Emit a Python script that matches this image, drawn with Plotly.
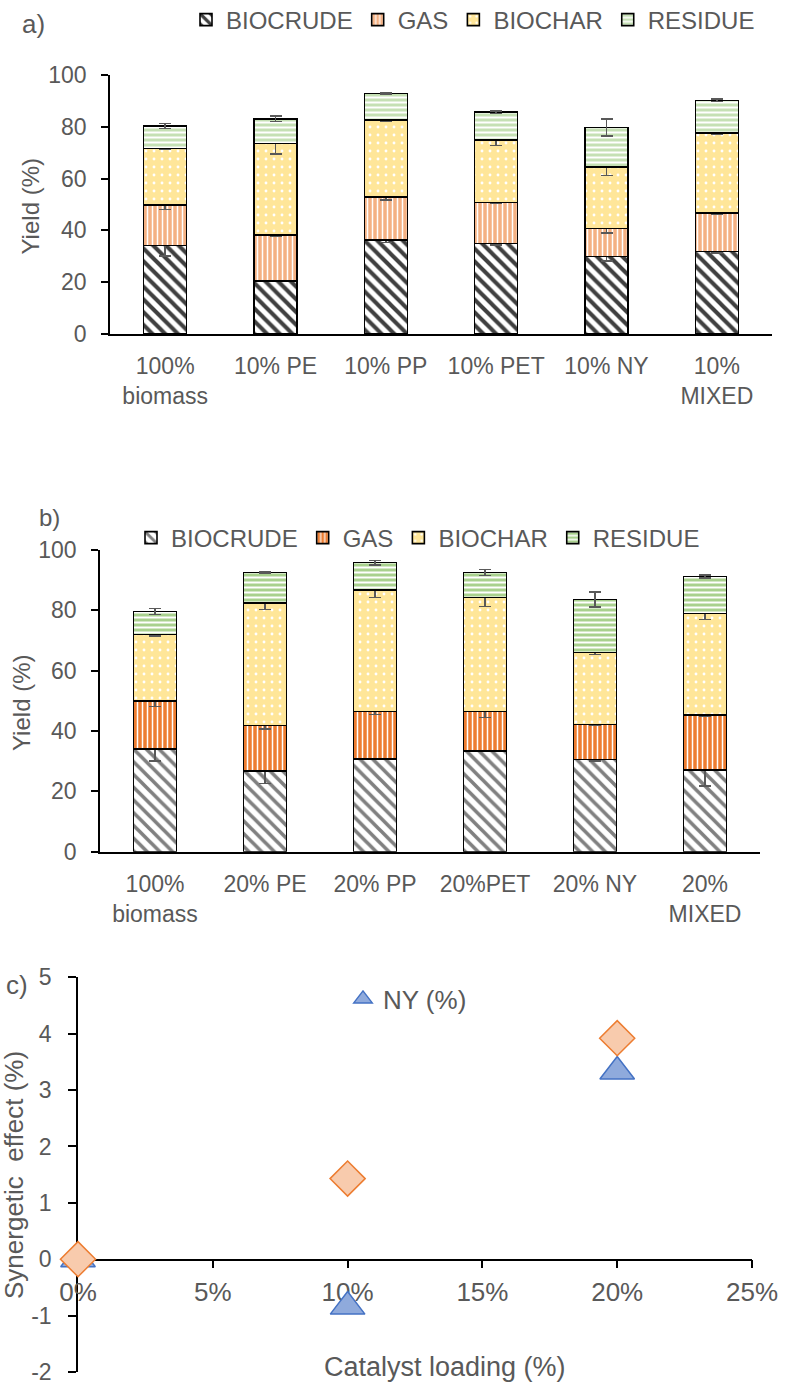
import plotly.graph_objects as go

W, H = 794, 1386

# ---------------- data ----------------
categories_a = ["100%<br>biomass", "10% PE", "10% PP", "10% PET", "10% NY", "10%<br>MIXED"]
categories_b = ["100%<br>biomass", "20% PE", "20% PP", "20%PET", "20% NY", "20%<br>MIXED"]
series_names = ["BIOCRUDE", "GAS", "BIOCHAR", "RESIDUE"]

# panel a (10% plastic) yields, %
biocrude_a = [34.1, 20.5, 36.3, 34.9, 29.9, 31.8]
gas_a = [15.7, 17.7, 16.5, 15.8, 10.8, 15.0]
biochar_a = [21.9, 35.4, 29.8, 24.1, 23.8, 30.7]
residue_a = [8.6, 9.5, 10.2, 10.9, 15.3, 12.7]
biocrude_a_err = [3.9, 0.3, 1.0, 0.5, 1.8, 0.6]
gas_a_err = [1.8, 0.5, 1.0, 0.3, 1.7, 0.6]
biochar_a_err = [0.5, 4.1, 0.5, 2.0, 3.3, 0.5]
residue_a_err = [1.0, 1.0, 0.3, 0.5, 3.3, 0.5]

# panel b (20% plastic) yields, %
biocrude_b = [34.0, 26.7, 30.8, 33.4, 30.6, 27.1]
gas_b = [15.9, 15.1, 15.7, 13.1, 11.5, 18.2]
biochar_b = [22.1, 40.7, 40.2, 37.7, 23.9, 33.7]
residue_b = [7.6, 10.1, 9.1, 8.4, 17.6, 12.2]
biocrude_b_err = [3.9, 4.1, 0.3, 0.2, 0.5, 5.3]
gas_b_err = [1.8, 1.2, 1.0, 2.0, 0.3, 0.3]
biochar_b_err = [0.5, 2.2, 2.4, 2.9, 0.6, 2.1]
residue_b_err = [1.0, 0.2, 0.7, 1.0, 2.4, 0.5]

# panel c synergetic effect
catalyst_loading = [0.0, 0.10, 0.20]
ny_effect = [0.0, -0.84, 3.33]
other_effect = [0.0, 1.43, 3.92]

x_ticks_c = [0, 0.05, 0.10, 0.15, 0.20, 0.25]
y_ticks_c = [-2, -1, 0, 1, 2, 3, 4, 5]
y_ticktext_c = ["-2", "-1", "0", "1", "2", "3", "4", "5"]

# ---------------- helpers ----------------
def px_x(x):
    return x / W


def px_y(y):
    return 1 - y / H


FONT = "Liberation Sans, Arial, sans-serif"
GREY = "#595959"

styles_a = [
    dict(shape="\\", fg="#404040", bg="white", size=9, sol=0.45),
    dict(shape="|", fg="white", bg="#F4B183", size=5, sol=0.3),
    dict(shape=".", fg="white", bg="#FFE699", size=8, sol=0.1),
    dict(shape="-", fg="white", bg="#C5E0B4", size=5, sol=0.4),
]
styles_b = [
    dict(shape="\\", fg="#808080", bg="white", size=9, sol=0.4),
    dict(shape="|", fg="white", bg="#ED7D31", size=5, sol=0.3),
    dict(shape=".", fg="white", bg="#FFE699", size=8, sol=0.1),
    dict(shape="-", fg="white", bg="#A9D18E", size=5, sol=0.4),
]

fig = go.Figure()

panel_a = [biocrude_a, gas_a, biochar_a, residue_a]
panel_a_err = [biocrude_a_err, gas_a_err, biochar_a_err, residue_a_err]
panel_b = [biocrude_b, gas_b, biochar_b, residue_b]
panel_b_err = [biocrude_b_err, gas_b_err, biochar_b_err, residue_b_err]

for name, vals, errs, st in zip(series_names, panel_a, panel_a_err, styles_a):
    fig.add_trace(go.Bar(
        x=categories_a, y=vals, name=name, xaxis="x", yaxis="y", legend="legend",
        marker=dict(color=st["bg"], line=dict(color="black", width=1.6),
                    pattern=dict(shape=st["shape"], fgcolor=st["fg"], bgcolor=st["bg"],
                                 size=st["size"], solidity=st["sol"], fillmode="replace")),
        error_y=dict(type="data", array=errs, color=GREY, thickness=1.6, width=6),
    ))

for name, vals, errs, st in zip(series_names, panel_b, panel_b_err, styles_b):
    fig.add_trace(go.Bar(
        x=categories_b, y=vals, name=name, xaxis="x2", yaxis="y2", legend="legend2",
        marker=dict(color=st["bg"], line=dict(color="black", width=1.6),
                    pattern=dict(shape=st["shape"], fgcolor=st["fg"], bgcolor=st["bg"],
                                 size=st["size"], solidity=st["sol"], fillmode="replace")),
        error_y=dict(type="data", array=errs, color=GREY, thickness=1.6, width=6),
    ))

fig.add_trace(go.Scatter(
    x=catalyst_loading, y=ny_effect, name="NY (%)", mode="markers",
    xaxis="x3", yaxis="y3", legend="legend3", cliponaxis=False,
    marker=dict(symbol="triangle-up", size=30, color="#8FAADC",
                line=dict(color="#4472C4", width=1.5)),
))
fig.add_trace(go.Scatter(
    x=catalyst_loading, y=other_effect, name="Series 2", mode="markers",
    xaxis="x3", yaxis="y3", showlegend=False, cliponaxis=False,
    marker=dict(symbol="diamond", size=27, color="#F8CBAD",
                line=dict(color="#ED7D31", width=1.5)),
))

tickfont = dict(family=FONT, size=23, color=GREY)

bar_x = dict(type="category", showline=True, linecolor="black", linewidth=1.5,
             ticks="", showgrid=False, tickfont=tickfont, ticklabelstandoff=11,
             zeroline=False)
bar_y = dict(range=[0, 100], dtick=20, showline=True, linecolor="black", linewidth=1.5,
             ticks="outside", ticklen=7, tickcolor="black", tickwidth=1.5,
             showgrid=False, zeroline=False, tickfont=tickfont, ticklabelstandoff=10)

legend_common = dict(orientation="h", xanchor="left", yanchor="middle",
                     font=dict(family=FONT, size=24, color=GREY),
                     bgcolor="rgba(0,0,0,0)", itemwidth=30, traceorder="normal",
                     borderwidth=0)

fig.update_layout(
    width=W, height=H,
    margin=dict(l=0, r=0, t=0, b=0, autoexpand=False),
    paper_bgcolor="white", plot_bgcolor="white",
    barmode="stack", bargap=0.61,
    font=dict(family=FONT, color=GREY),
    xaxis=dict(domain=[px_x(110), px_x(772)], anchor="y", **bar_x),
    yaxis=dict(domain=[px_y(334), px_y(75)], anchor="x", **bar_y),
    xaxis2=dict(domain=[px_x(100), px_x(760)], anchor="y2", **bar_x),
    yaxis2=dict(domain=[px_y(851.7), px_y(550)], anchor="x2", **bar_y),
    xaxis3=dict(domain=[px_x(78), px_x(752)], anchor="free", position=px_y(1259.5),
                range=[0, 0.25], tickvals=x_ticks_c, tickformat=".0%",
                showline=True, linecolor="black", linewidth=1.5,
                ticks="outside", ticklen=8, tickcolor="black", tickwidth=1.5,
                showgrid=False, zeroline=False, layer="below traces",
                ticklabeloverflow="allow",
                tickfont=dict(family=FONT, size=26, color=GREY), ticklabelstandoff=2),
    yaxis3=dict(domain=[px_y(1372), px_y(977.3)], anchor="x3",
                range=[-2.0001, 5.0001], tickvals=y_ticks_c, ticktext=y_ticktext_c,
                showline=True, linecolor="black", linewidth=1.5,
                ticks="outside", ticklen=8, tickcolor="black", tickwidth=1.5,
                showgrid=False, zeroline=False, layer="below traces",
                ticklabeloverflow="allow",
                tickfont=dict(family=FONT, size=23, color=GREY), ticklabelstandoff=12),
    legend=dict(x=px_x(186), y=px_y(20), **legend_common),
    legend2=dict(x=px_x(131), y=px_y(538), **legend_common),
    legend3=dict(x=px_x(343), y=px_y(999), xanchor="left", yanchor="middle",
                 font=dict(family=FONT, size=26, color=GREY),
                 bgcolor="rgba(0,0,0,0)", itemwidth=30, borderwidth=0),
    showlegend=True,
)

ann_font = lambda s: dict(family=FONT, size=s, color=GREY)
annotations = [
    dict(text="a)", x=px_x(33), y=px_y(24), font=ann_font(26)),
    dict(text="b)", x=px_x(49), y=px_y(517), font=ann_font(24)),
    dict(text="c)", x=px_x(16.5), y=px_y(984.5), font=ann_font(26)),
    dict(text="Yield (%)", x=px_x(29.5), y=px_y(206), font=ann_font(24), textangle=-90),
    dict(text="Yield (%)", x=px_x(21), y=px_y(703), font=ann_font(24), textangle=-90),
    dict(text="Synergetic\u00a0 effect (%)", x=px_x(14), y=px_y(1175), font=ann_font(26),
         textangle=-90),
    dict(text="Catalyst loading (%)", x=px_x(445), y=px_y(1367), font=ann_font(27)),
]
for a in annotations:
    fig.add_annotation(xref="paper", yref="paper", xanchor="center", yanchor="middle",
                       showarrow=False, **a)

fig.write_html("out.html")
